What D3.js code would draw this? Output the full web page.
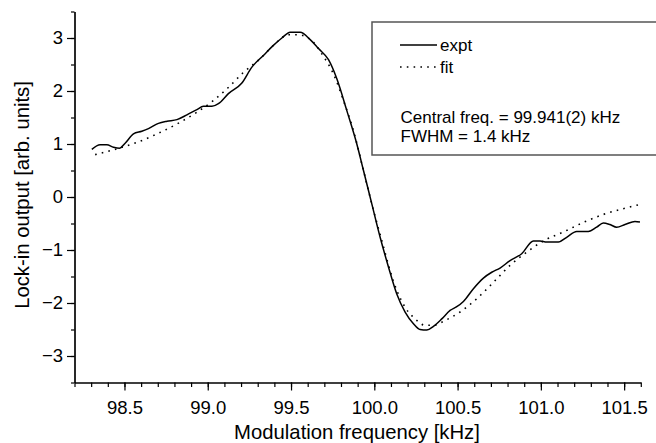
<!DOCTYPE html>
<html>
<head>
<meta charset="utf-8">
<script src="https://cdn.jsdelivr.net/npm/d3@7"></script>
<style>
  html, body { margin: 0; padding: 0; background: #fff; }
  svg { display: block; font-family: "Liberation Sans", Arial, sans-serif; }
  .axis path, .axis line { stroke: #000; stroke-width: 1.2; }
  .axis text { fill: #000; font-size: 18.5px; font-family: "Liberation Sans", Arial, sans-serif; }
</style>
</head>
<body>
<div id="chart"></div>
<script>
// measured curve (solid)
const exptFreq = [98.304, 98.354, 98.394, 98.434, 98.47, 98.504, 98.554, 98.604, 98.644, 98.704,
  98.755, 98.815, 98.875, 98.935, 98.974, 99.025, 99.064, 99.124, 99.205, 99.265,
  99.334, 99.394, 99.445, 99.495, 99.555, 99.615, 99.665, 99.725, 99.775, 99.835,
  99.895, 99.935, 99.985, 100.035, 100.085, 100.135, 100.185, 100.235, 100.275, 100.315,
  100.355, 100.405, 100.455, 100.495, 100.535, 100.595, 100.655, 100.705, 100.755, 100.815,
  100.885, 100.955, 100.995, 101.035, 101.105, 101.155, 101.215, 101.285, 101.335, 101.375,
  101.415, 101.455, 101.505, 101.565, 101.595];
const exptSignal = [0.9, 0.985, 0.985, 0.94, 0.92, 1.015, 1.19, 1.24, 1.29, 1.39,
  1.43, 1.46, 1.55, 1.65, 1.71, 1.71, 1.76, 1.95, 2.15, 2.45,
  2.67, 2.86, 3.0, 3.11, 3.11, 2.97, 2.8, 2.59, 2.23, 1.63,
  1.0, 0.5, -0.13, -0.76, -1.32, -1.83, -2.17, -2.39, -2.5, -2.51,
  -2.44, -2.3, -2.14, -2.07, -1.97, -1.73, -1.53, -1.42, -1.34, -1.2,
  -1.07, -0.83, -0.83, -0.85, -0.85, -0.76, -0.65, -0.65, -0.57, -0.49,
  -0.52, -0.57, -0.52, -0.46, -0.47];

// fitted curve (dotted)
const fitFreq = [98.324, 98.434, 98.575, 98.695, 98.834, 98.935, 99.034, 99.115, 99.214, 99.315,
  99.394, 99.485, 99.545, 99.635, 99.685, 99.755, 99.815, 99.875, 99.935, 99.995,
  100.045, 100.095, 100.135, 100.185, 100.245, 100.305, 100.355, 100.425, 100.515, 100.615,
  100.715, 100.815, 100.915, 101.015, 101.135, 101.255, 101.375, 101.495, 101.595];
const fitSignal = [0.8, 0.89, 1.03, 1.19, 1.41, 1.6, 1.82, 2.04, 2.35, 2.61,
  2.86, 3.06, 3.06, 2.92, 2.7, 2.32, 1.82, 1.25, 0.5, -0.25,
  -0.82, -1.39, -1.76, -2.08, -2.3, -2.42, -2.42, -2.33, -2.17, -1.92,
  -1.61, -1.29, -1.04, -0.83, -0.66, -0.48, -0.33, -0.22, -0.14];

const xTicks = [98.5, 99.0, 99.5, 100.0, 100.5, 101.0, 101.5];
const yTicks = [-3, -2, -1, 0, 1, 2, 3];
const legendItems = ["expt", "fit"];
const fitNotes = ["Central freq. = 99.941(2) kHz", "FWHM = 1.4 kHz"];

const W = 656, H = 443;
const x = d3.scaleLinear().domain([98.2, 101.6]).range([74.5, 640.8]);
const y = d3.scaleLinear().domain([-3.5, 3.5]).range([382.5, 11.5]);

const svg = d3.select("#chart").append("svg").attr("width", W).attr("height", H);

// minor ticks
const xMinor = d3.range(98.2, 101.61, 0.1).map((v) => +v.toFixed(1));
const yMinor = d3.range(-3.5, 3.51, 0.5);

svg.append("g")
  .attr("class", "axis")
  .attr("transform", `translate(0,${y(-3.5)})`)
  .call(d3.axisBottom(x).tickValues(xMinor).tickSize(4.5).tickFormat(() => "").tickSizeOuter(0));

svg.append("g")
  .attr("class", "axis")
  .attr("transform", `translate(0,${y(-3.5)})`)
  .call(d3.axisBottom(x).tickValues(xTicks).tickSize(8).tickPadding(10).tickFormat(d3.format(".1f")).tickSizeOuter(0));

svg.append("g")
  .attr("class", "axis")
  .attr("transform", `translate(${x(98.2)},0)`)
  .call(d3.axisLeft(y).tickValues(yMinor).tickSize(3.5).tickFormat(() => "").tickSizeOuter(0));

svg.append("g")
  .attr("class", "axis")
  .attr("transform", `translate(${x(98.2)},0)`)
  .call(d3.axisLeft(y).tickValues(yTicks).tickSize(7.5).tickPadding(4).tickFormat(d3.format("d")).tickSizeOuter(0));

// axis titles
svg.append("text")
  .attr("x", 357)
  .attr("y", 439)
  .attr("text-anchor", "middle")
  .attr("font-size", "20.3px")
  .text("Modulation frequency [kHz]");

svg.append("text")
  .attr("transform", "translate(29,195) rotate(-90)")
  .attr("text-anchor", "middle")
  .attr("font-size", "20.3px")
  .text("Lock-in output [arb. units]");

// curves
const mkLine = d3.line().x((d) => x(d[0])).y((d) => y(d[1])).curve(d3.curveMonotoneX);

svg.append("path")
  .datum(fitFreq.map((f, i) => [f, fitSignal[i]]))
  .attr("d", mkLine)
  .attr("fill", "none")
  .attr("stroke", "#000")
  .attr("stroke-width", 1.6)
  .attr("stroke-dasharray", "1.6 5.2");

svg.append("path")
  .datum(exptFreq.map((f, i) => [f, exptSignal[i]]))
  .attr("d", mkLine)
  .attr("fill", "none")
  .attr("stroke", "#000")
  .attr("stroke-width", 1.5)
  .attr("stroke-linejoin", "round");

// legend box
const lg = svg.append("g");
lg.append("rect")
  .attr("x", 372)
  .attr("y", 22)
  .attr("width", 320)
  .attr("height", 133)
  .attr("fill", "#fff")
  .attr("stroke", "#555")
  .attr("stroke-width", 1.5);

legendItems.forEach((name, i) => {
  const ly = 45 + i * 22;
  lg.append("line")
    .attr("x1", 400).attr("x2", 437)
    .attr("y1", ly).attr("y2", ly)
    .attr("stroke", "#000")
    .attr("stroke-width", 1.5)
    .attr("stroke-dasharray", i === 0 ? null : "1.6 5.2");
  lg.append("text")
    .attr("x", 440)
    .attr("y", ly + 5.5)
    .attr("font-size", "17px")
    .text(name);
});

fitNotes.forEach((t, i) => {
  lg.append("text")
    .attr("x", 400.5)
    .attr("y", 123.3 + i * 19)
    .attr("font-size", "17px")
    .text(t);
});
</script>
</body>
</html>
